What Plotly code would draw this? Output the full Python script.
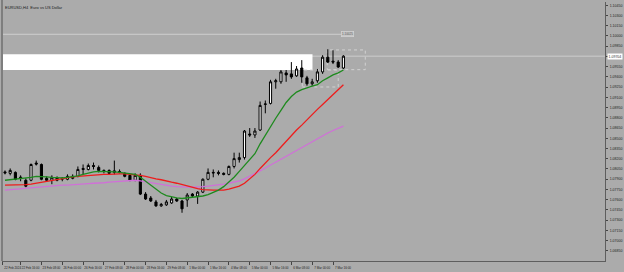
import plotly.graph_objects as go

# ---- data ----
bar_index = list(range(66))
opens = [1.08007,1.07986,1.08000,1.07913,1.07885,1.07885,1.08137,1.08116,1.07913,1.07885,
         1.07921,1.07899,1.07899,1.07913,1.07942,1.08058,1.08043,1.08101,1.08072,1.08029,
         1.08029,1.08000,1.08014,1.07986,1.07957,1.07885,1.07957,1.07682,1.07625,1.07567,
         1.07509,1.07524,1.07552,1.07610,1.07581,1.07596,1.07682,1.07654,1.07711,1.07899,
         1.08000,1.08000,1.07986,1.07971,1.08087,1.08188,1.08217,1.08563,1.08549,1.08621,
         1.08996,1.09011,1.09328,1.09328,1.09458,1.09444,1.09415,1.09530,1.09386,1.09299,
         1.09343,1.09473,1.09689,1.09631,1.09617,1.09530]
highs = [1.08029,1.08058,1.08014,1.07957,1.07913,1.08130,1.08173,1.08130,1.07942,1.07957,
         1.07942,1.07928,1.07971,1.07971,1.08087,1.08116,1.08130,1.08144,1.08101,1.08043,
         1.08043,1.08173,1.08043,1.08000,1.07971,1.07986,1.07986,1.07711,1.07654,1.07596,
         1.07552,1.07596,1.07639,1.07625,1.07596,1.07697,1.07697,1.07726,1.07913,1.08058,
         1.08043,1.08029,1.08000,1.08101,1.08289,1.08289,1.08621,1.08650,1.08650,1.09039,
         1.09054,1.09357,1.09372,1.09501,1.09501,1.09617,1.09559,1.09646,1.09415,1.09372,
         1.09516,1.09718,1.09805,1.09790,1.09646,1.09718]
lows = [1.07971,1.07957,1.07885,1.07870,1.07783,1.07870,1.08101,1.07885,1.07870,1.07827,
        1.07870,1.07870,1.07885,1.07899,1.07928,1.07971,1.08029,1.08043,1.08000,1.07986,
        1.07971,1.07971,1.07986,1.07928,1.07870,1.07870,1.07668,1.07596,1.07567,1.07495,
        1.07495,1.07509,1.07538,1.07567,1.07408,1.07495,1.07639,1.07538,1.07697,1.07885,
        1.07928,1.07957,1.07957,1.07957,1.08058,1.08144,1.08188,1.08520,1.08505,1.08606,
        1.08866,1.08996,1.09227,1.09299,1.09328,1.09372,1.09400,1.09314,1.09270,1.09270,
        1.09314,1.09444,1.09603,1.09588,1.09530,1.09516]
closes = [1.07993,1.08029,1.07899,1.07928,1.07798,1.08116,1.08123,1.07899,1.07885,1.07928,
          1.07885,1.07913,1.07942,1.07942,1.08043,1.08043,1.08101,1.08087,1.08029,1.08014,
          1.07986,1.08022,1.08000,1.07942,1.07885,1.07957,1.07682,1.07610,1.07581,1.07509,
          1.07531,1.07567,1.07610,1.07581,1.07466,1.07668,1.07654,1.07711,1.07899,1.08000,
          1.07993,1.07986,1.07971,1.08087,1.08202,1.08217,1.08606,1.08549,1.08606,1.08982,
          1.09003,1.09328,1.09343,1.09473,1.09429,1.09400,1.09516,1.09400,1.09299,1.09328,
          1.09473,1.09689,1.09617,1.09617,1.09545,1.09704]

ma_green = [1.07885,1.07892,1.07899,1.07906,1.07913,1.07928,1.07942,1.07942,1.07935,1.07928,
            1.07921,1.07921,1.07928,1.07935,1.07949,1.07971,1.07993,1.08007,1.08014,1.08014,
            1.08007,1.08007,1.08000,1.07993,1.07978,1.07971,1.07928,1.07870,1.07812,1.07755,
            1.07697,1.07661,1.07639,1.07625,1.07617,1.07625,1.07632,1.07639,1.07654,1.07675,
            1.07704,1.07740,1.07791,1.07856,1.07928,1.08014,1.08101,1.08188,1.08274,1.08419,
            1.08549,1.08679,1.08794,1.08910,1.09025,1.09112,1.09177,1.09213,1.09242,1.09263,
            1.09285,1.09343,1.09386,1.09429,1.09458,1.09501]
ma_red = [1.07812,1.07812,1.07812,1.07812,1.07820,1.07827,1.07841,1.07856,1.07870,1.07885,
          1.07899,1.07913,1.07928,1.07935,1.07942,1.07949,1.07957,1.07964,1.07971,1.07971,
          1.07971,1.07978,1.07978,1.07978,1.07971,1.07971,1.07957,1.07942,1.07921,1.07906,
          1.07892,1.07870,1.07856,1.07841,1.07820,1.07798,1.07783,1.07762,1.07747,1.07740,
          1.07740,1.07740,1.07740,1.07755,1.07776,1.07798,1.07841,1.07899,1.07971,1.08058,
          1.08144,1.08217,1.08289,1.08375,1.08462,1.08549,1.08621,1.08693,1.08765,1.08845,
          1.08924,1.08996,1.09068,1.09141,1.09213,1.09285]
ma_purple = [1.07740,1.07747,1.07747,1.07755,1.07762,1.07769,1.07776,1.07783,1.07791,1.07798,
             1.07805,1.07812,1.07812,1.07820,1.07827,1.07827,1.07834,1.07841,1.07841,1.07848,
             1.07856,1.07863,1.07870,1.07877,1.07885,1.07885,1.07877,1.07863,1.07848,1.07834,
             1.07820,1.07805,1.07798,1.07791,1.07783,1.07783,1.07783,1.07783,1.07791,1.07798,
             1.07805,1.07812,1.07827,1.07841,1.07856,1.07877,1.07906,1.07942,1.07978,1.08022,
             1.08065,1.08108,1.08152,1.08195,1.08238,1.08282,1.08325,1.08368,1.08411,1.08455,
             1.08498,1.08541,1.08578,1.08614,1.08650,1.08679]

time_tick_bars = [-0.45, 3, 7, 11, 15, 19, 23, 27, 31, 35, 39, 43, 47, 51, 55, 59, 63]
time_tick_labels = ["22 Feb 2024", "22 Feb 16:00", "23 Feb 08:00", "26 Feb 00:00", "26 Feb 16:00",
                    "27 Feb 08:00", "28 Feb 00:00", "28 Feb 16:00", "29 Feb 08:00", "1 Mar 00:00",
                    "1 Mar 16:00", "4 Mar 08:00", "5 Mar 00:00", "5 Mar 16:00", "6 Mar 08:00",
                    "7 Mar 00:00", "7 Mar 16:00"]
price_ticks = [1.10450, 1.10300, 1.10150, 1.10000, 1.09850, 1.09700, 1.09550, 1.09400, 1.09250,
               1.09100, 1.08950, 1.08800, 1.08650, 1.08500, 1.08350, 1.08200, 1.08050, 1.07900,
               1.07750, 1.07600, 1.07450, 1.07300, 1.07150, 1.07000, 1.06850]

bid_price = 1.09704
hline_price = 1.10025
white_zone = (1.09501, 1.09732)
dotted_box_1 = (61.9, 69.2, 1.09506, 1.09795)
dotted_box_2 = (57.1, 64.0, 1.09252, 1.09501)
title_text = "EURUSD,H4  Euro vs US Dollar"

# the bid label covers the price tick it sits on (as in the terminal)
price_tick_labels = ["" if abs(p - bid_price) < 0.0004 else f"{p:.5f}" for p in price_ticks]

X_RANGE = [-0.575, 115.24]
Y_RANGE = [1.06701, 1.10498]
BG = "#ababab"
FONT = "Liberation Sans"

fig = go.Figure()

fig.add_trace(go.Candlestick(
    x=bar_index, open=opens, high=highs, low=lows, close=closes,
    increasing=dict(fillcolor="white", line=dict(color="black", width=1)),
    decreasing=dict(fillcolor="black", line=dict(color="black", width=1)),
    whiskerwidth=0, showlegend=False, hoverinfo="skip"))

for vals, col in [(ma_purple, "#d070d8"), (ma_red, "#ee1c1c"), (ma_green, "#1e8a1e")]:
    fig.add_trace(go.Scatter(x=bar_index, y=vals, mode="lines",
                             line=dict(color=col, width=1.3), showlegend=False,
                             hoverinfo="skip"))

# white zone (background object)
fig.add_shape(type="rect", xref="x", yref="y", x0=X_RANGE[0], x1=59.06,
              y0=white_zone[0], y1=white_zone[1], fillcolor="white",
              line=dict(width=0), layer="below")
# dotted boxes
for bx in (dotted_box_1, dotted_box_2):
    fig.add_shape(type="rect", xref="x", yref="y", x0=bx[0], x1=bx[1], y0=bx[2], y1=bx[3],
                  line=dict(color="#d2d2d2", width=1, dash="dot"), layer="below")
# horizontal line with label
fig.add_shape(type="line", xref="x", yref="y", x0=X_RANGE[0], x1=64.6,
              y0=hline_price, y1=hline_price, line=dict(color="#cfcfcf", width=1), layer="below")
fig.add_annotation(x=64.6, y=hline_price, xref="x", yref="y", text=f"{hline_price:.5f}",
                   showarrow=False, xanchor="left", yanchor="middle",
                   font=dict(size=3, color="#555555", family=FONT),
                   bgcolor="#c6c6c6", bordercolor="#d8d8d8", borderwidth=0.5, borderpad=0.5)
# bid line
fig.add_shape(type="line", xref="paper", yref="y", x0=0, x1=1, y0=bid_price, y1=bid_price,
              line=dict(color="#cdcdcd", width=1), layer="below")
fig.add_annotation(x=1, y=bid_price, xref="paper", yref="y", text=f"{bid_price:.5f}",
                   showarrow=False, xanchor="left", yanchor="middle", xshift=2,
                   font=dict(size=3.5, color="#333333", family=FONT),
                   bgcolor="white", borderpad=0.6)
# title
fig.add_annotation(x=0, y=1, xref="paper", yref="paper", text=title_text, showarrow=False,
                   xanchor="left", yanchor="top", xshift=1, yshift=-1,
                   font=dict(size=4, color="#1a1a1a", family=FONT))
# window edge (left)
fig.add_shape(type="line", xref="paper", yref="paper", x0=0, x1=0, y0=0, y1=1.01,
              line=dict(color="#7e7e7e", width=2))

fig.update_layout(
    width=624, height=272,
    margin=dict(l=2, r=18, t=2, b=7),
    paper_bgcolor=BG, plot_bgcolor=BG,
    boxgap=0.42,
    showlegend=False,
    xaxis=dict(range=X_RANGE, showgrid=False, zeroline=False, rangeslider=dict(visible=False),
               showline=True, linecolor="#5e5e5e", linewidth=1,
               tickmode="array", tickvals=time_tick_bars, ticktext=time_tick_labels,
               tickangle=0,
               ticks="outside", ticklen=3, tickcolor="#444444", tickwidth=1,
               ticklabelshift=10, ticklabelstandoff=0,
               tickfont=dict(size=3, color="#222222", family=FONT), fixedrange=True),
    yaxis=dict(range=Y_RANGE, side="right", showgrid=False, zeroline=False,
               showline=True, linecolor="#5e5e5e", linewidth=1,
               tickmode="array", tickvals=price_ticks, ticktext=price_tick_labels,
               ticks="outside", ticklen=2, tickcolor="#444444", tickwidth=1,
               ticklabelstandoff=1,
               tickfont=dict(size=3.5, color="#222222", family=FONT), fixedrange=True),
)

fig.write_html("out.html")
